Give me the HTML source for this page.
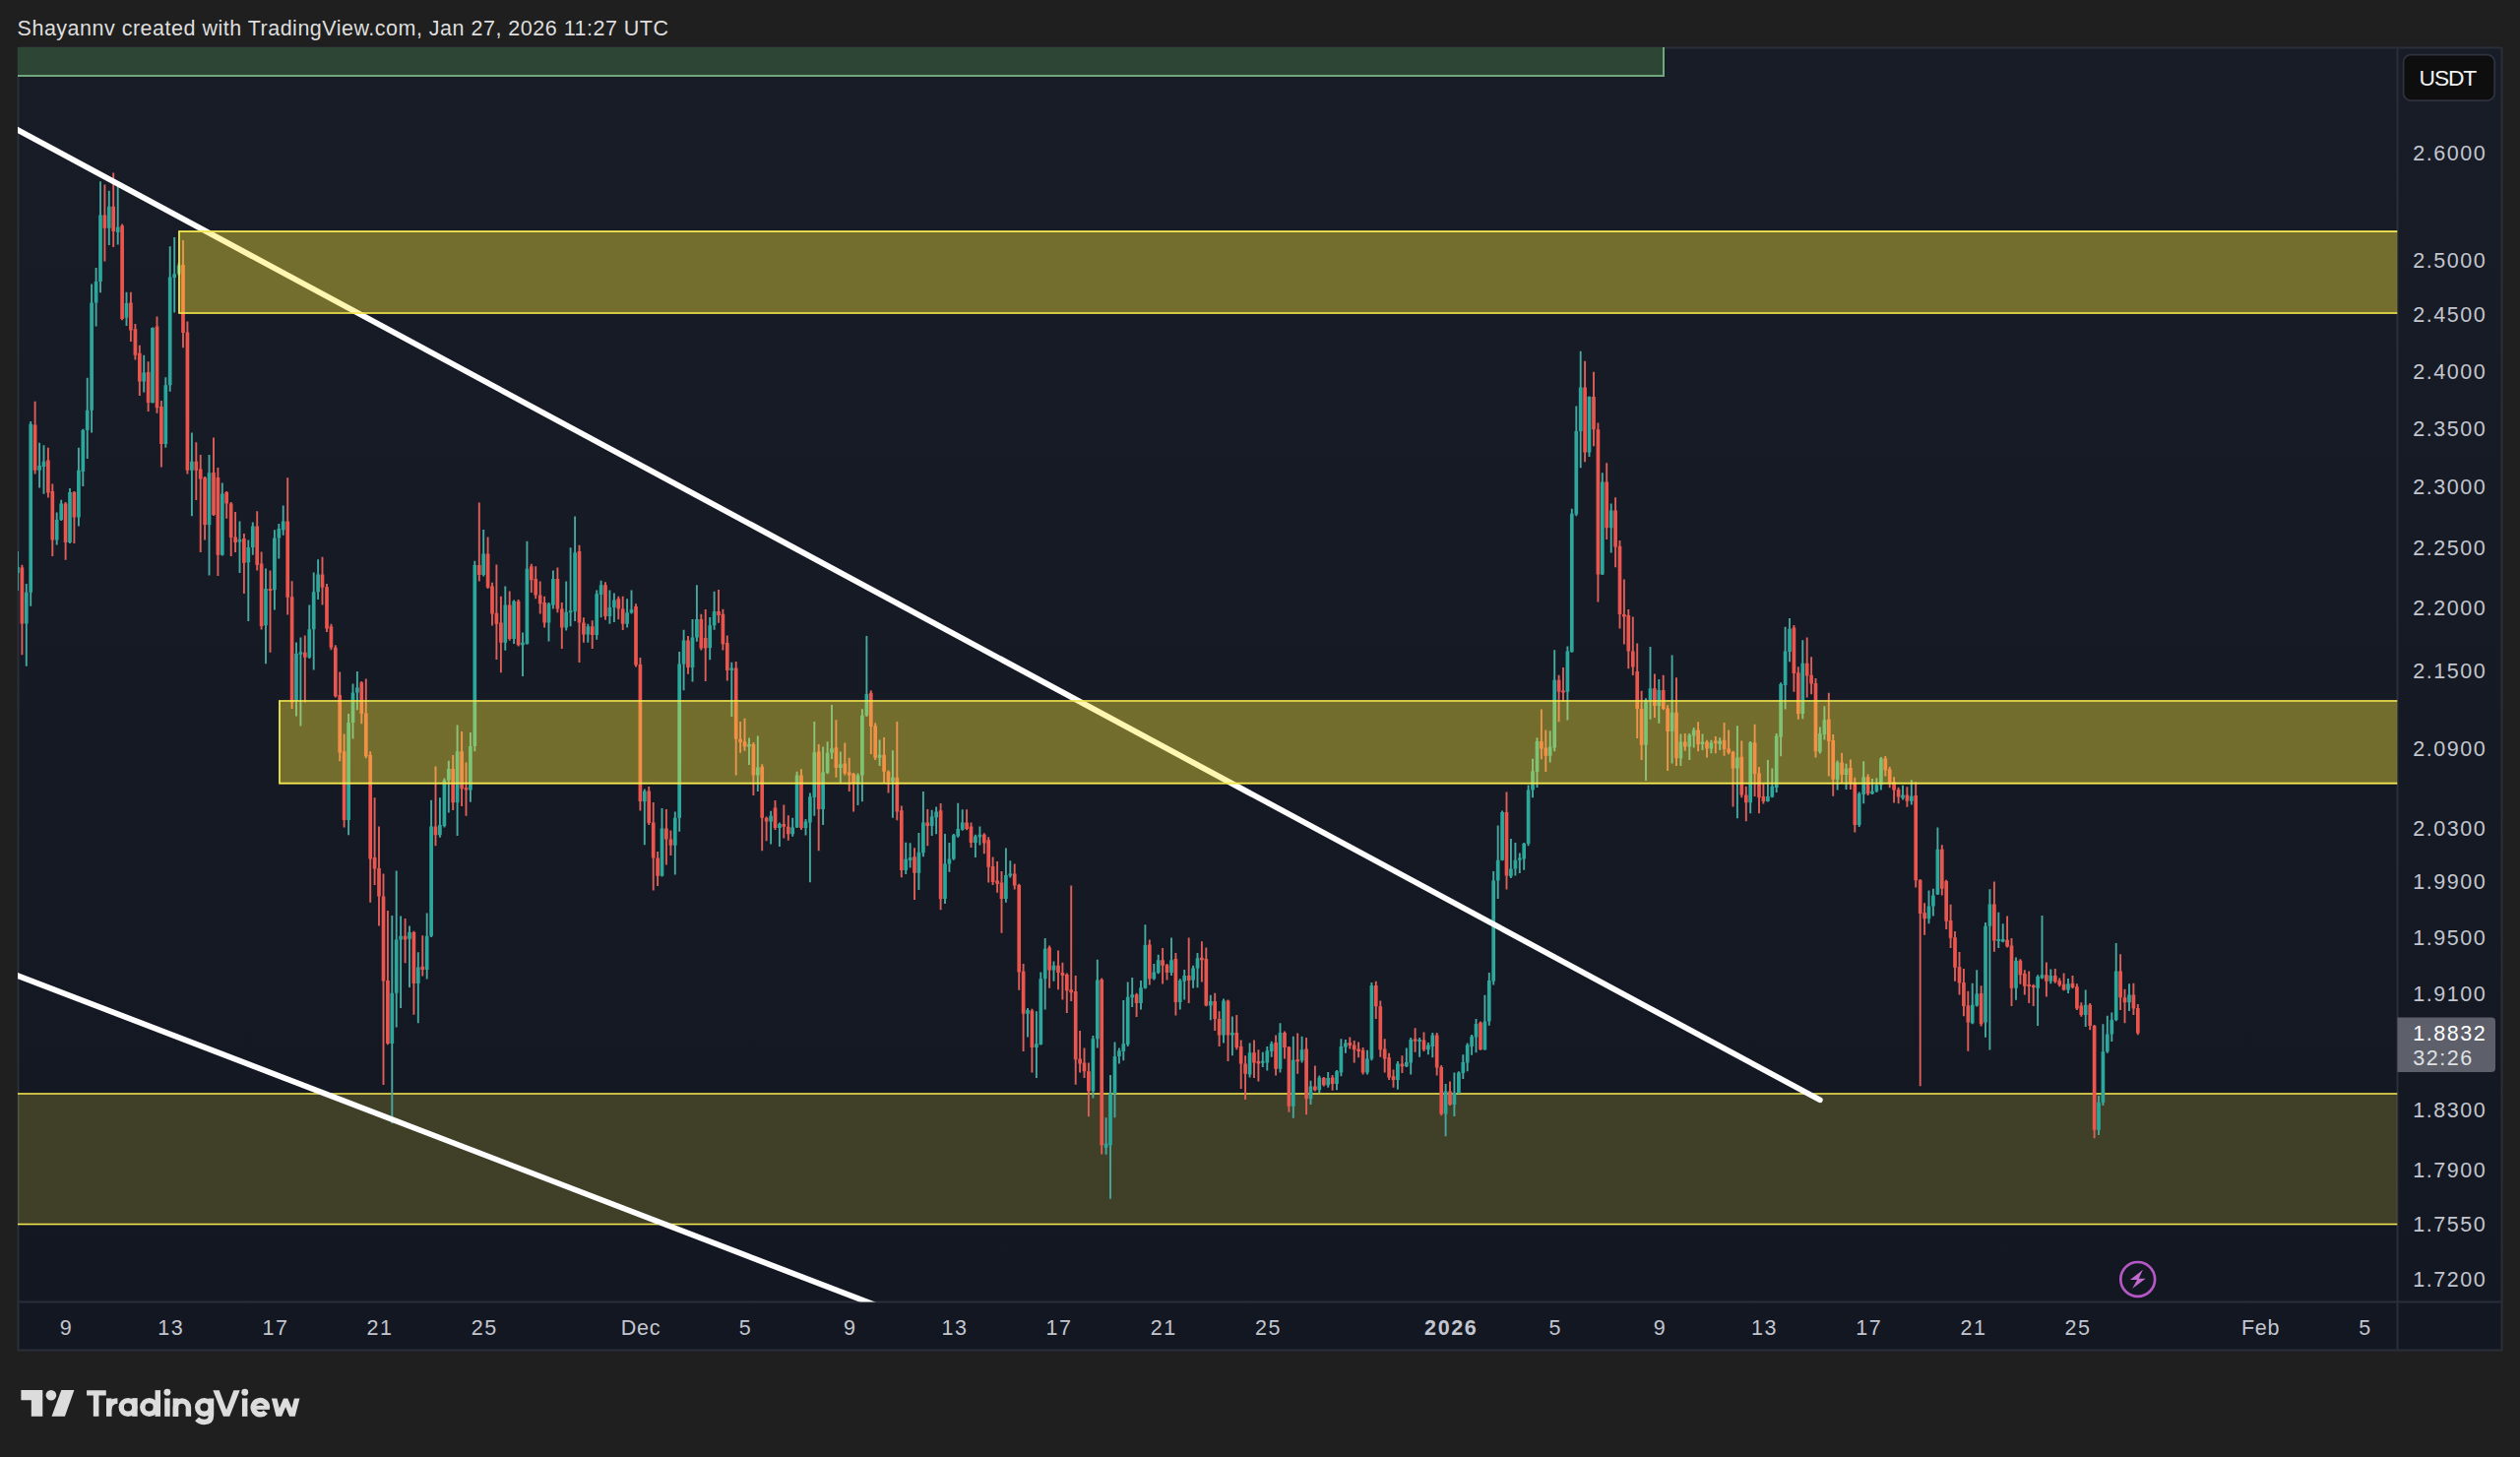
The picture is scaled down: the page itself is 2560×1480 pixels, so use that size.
<!DOCTYPE html>
<html><head><meta charset="utf-8"><title>chart</title>
<style>
html,body{margin:0;padding:0;background:#1f1f1f;}
body{width:2560px;height:1480px;position:relative;overflow:hidden;font-family:"Liberation Sans",sans-serif;}
svg text{font-family:"Liberation Sans",sans-serif;}
</style></head><body>
<svg width="2560" height="1480" viewBox="0 0 2560 1480" style="position:absolute;left:0;top:0">
<defs><linearGradient id="bgg" gradientUnits="userSpaceOnUse" x1="0" y1="48" x2="0" y2="1372"><stop offset="0" stop-color="#181c27"/><stop offset="1" stop-color="#131722"/></linearGradient></defs>
<defs><clipPath id="cp"><rect x="18" y="48" width="2417.5" height="1274.5"/></clipPath></defs>
<rect x="18" y="48" width="2524" height="1324" fill="url(#bgg)"/>
<path d="M18 48.5H2542M18 1322.5H2542M18 1371.5H2542" stroke="#2b2f3a" stroke-width="2" fill="none"/>
<path d="M18.5 48V1372M2435.5 48V1372M2541.5 48V1372" stroke="#2b2f3a" stroke-width="2" fill="none"/>
<g clip-path="url(#cp)">
<rect x="18" y="48" width="1672" height="29" fill="#2c4535"/>
<path d="M18 77H1690V48" stroke="#71a77c" stroke-width="2" fill="none"/>
<rect x="18" y="1110" width="2417.5" height="134.5" fill="#ffeb3b" fill-opacity="0.19"/><path d="M18 1111H2435.5M18 1243.5H2435.5" stroke="#f3e84f" stroke-width="1.7" fill="none"/>
<path d="M17.9 560V600M26.8 592.9V676.7M31.2 428V615.7M40.1 449.7V495.4M44.5 452.3V501.8M57.7 520.5V553.5M62.2 507.8V529M71 496V552M79.9 454.8V534.5M84.3 435.8V494M88.7 383.7V466M93.1 288.4V439.6M97.6 272V331.6M102 184.3V297.3M110.8 193.7V249M119.7 188V248.6M128.5 296.8V330.9M146.2 360.8V398.4M155 332.4V409.6M168.3 383.2V454.8M172.7 250.3V397.7M177.2 241V317.6M181.6 267V280M194.9 439.6V524.3M212.5 462V584.5M225.8 490.4V564.5M243.5 529.4V582M252.3 548.4V631M256.8 530.6V563.7M270 577.6V674.2M278.9 538.3V619.5M283.3 532V567.5M287.7 513.4V543.8M301 652.6V727.5M305.4 647.5V737.6M314.3 614.5V669M318.7 581.4V680.5M323.1 568.2V608.9M354.1 725.1V848.3M358.5 694.6V750.5M362.9 681.9V721.3M398.3 930V1141.3M402.7 884.6V1043.5M407.1 930.5V1023.9M416 940.6V1002.9M424.8 967.3V1039.2M433.7 927.4V994.5M438.1 812.7V952M446.9 810.2V850.8M451.4 790.6V840.6M455.8 772.8V825.4M464.6 736.5V849M477.9 744.1V814.7M482.3 569.7V763.2M491.2 537.9V585.4M513.3 595.6V660.8M522.1 609.5V654M531 642.5V687M535.4 549.8V654.7M557.5 612.1V651.4M561.9 579.6V618.4M575.2 590.5V640.5M579.6 556.2V636.2M584.1 524.4V631.1M597.3 633.7V652.7M606.2 599.4V649.7M610.6 589.7V627.3M619.4 599.4V633.7M623.9 602.4V631.9M637.1 608.3V637.5M641.5 599.4V623.5M654.8 801.6V858.2M672.5 821.1V890.5M685.8 824.4V888.4M690.2 661.9V844.8M694.6 639.8V701.3M703.5 628.9V692.4M707.9 594.3V651.7M721.2 627.1V670.3M725.6 600.7V639.8M743.3 672.8V727.9M761 749.5V777M769.8 747.5V804.1M783.1 823.7V857.5M791.9 835.4V860M805.2 830.8V849.8M809.6 783.8V841M818.5 832.1V848.6M822.9 805.4V896.3M827.3 733V828.8M836.1 758.4V837.9M840.6 753.3V786.3M845 716V771.1M853.8 763.5V795.2M871.5 785.6V818.1M875.9 720.3V814.3M880.4 645.9V727.9M893.6 751.6V778M906.9 762.2V830.8M920.2 855.7V887.9M924.6 856.2V881.6M933.4 846V903.9M937.9 804.1V870.2M946.7 822.7V849.1M951.1 819.4V847.3M960 847V918.1M964.4 855.9V885.8M968.8 847V873.7M973.2 815.7V850.8M977.7 822.3V843.7M990.9 847.7V871.1M995.4 839.4V858.4M1021.9 861.5V916.8M1026.3 874.2V891.4M1044 1024V1053.5M1052.9 1027.3V1095.1M1057.3 987.4V1061.6M1061.7 952.9V1025.5M1070.5 976.5V996.8M1110.4 1051.9V1115.4M1114.8 974.7V1064.6M1123.6 1135.2V1172.8M1128 1092.1V1217.8M1132.5 1058.5V1135.2M1136.9 1064.6V1080.6M1141.3 1015.9V1077.3M1145.7 997.6V1062.9M1150.2 993V1023M1159 996.1V1025.5M1163.4 939.2V1004.4M1172.3 979V995.6M1176.7 969.7V989.2M1190 952.4V991M1198.8 994.3V1025.5M1203.2 984.9V1015.4M1212.1 980.8V1003.7M1216.5 968.1V1003.2M1229.8 1010.8V1036.2M1243 1014.6V1059.6M1251.9 1032.4V1072.3M1269.6 1059.6V1094.6M1282.8 1068.7V1083.9M1287.3 1062.9V1087.5M1291.7 1057.8V1073.8M1300.5 1039.2V1089.5M1313.8 1052.7V1135.7M1322.6 1052.7V1079.4M1331.5 1097.7V1122M1340.3 1092.6V1110.3M1349.2 1089V1104.8M1358 1087V1107.3M1362.4 1055.2V1093.3M1366.9 1056V1069.7M1389 1066.7V1091.6M1393.4 998.1V1077.3M1419.9 1078.1V1106.8M1428.8 1064.6V1083.9M1433.2 1054V1091.6M1442.1 1054V1073.8M1450.9 1059V1071.2M1455.3 1048.9V1074.3M1468.6 1101V1154.3M1477.4 1089.5V1134M1481.9 1088.3V1111.1M1486.3 1071.2V1095.9M1490.7 1059.6V1088.3M1495.1 1050.9V1071.7M1499.5 1034.9V1069.2M1508.4 1010.8V1066.7M1512.8 987.9V1041.8M1517.2 885.1V1000.6M1521.7 838.6V913M1526.1 823.4V874.2M1534.9 852.1V891.9M1539.4 855.9V889.4M1543.8 866.5V886.9M1548.2 855.9V883.8M1552.6 797.5V859.2M1557 770.8V810.2M1561.5 749.2V800M1574.7 742.3V774.6M1579.2 660.3V763.2M1592.4 656.5V731.4M1596.8 516.7V662.7M1601.3 412.5V524.3M1605.7 356.7V475.3M1614.5 402.4V464.1M1627.8 480.3V584M1636.7 511.6V561.6M1672 709.3V793.1M1676.5 657V730.7M1685.3 690V734.7M1698.6 665.4V775.4M1707.4 745.4V777.9M1716.3 744.9V772.1M1720.7 739V759.4M1729.5 745.4V761.9M1738.4 751.7V765.2M1747.2 749.2V761.9M1764.9 737.3V831.2M1778.2 753V826.2M1795.9 772.1V814.5M1800.3 780.4V810.2M1804.7 744.9V805.1M1809.1 693.3V768.3M1813.6 636.7V720.5M1818 628.1V672.3M1831.3 650.2V730.2M1848.9 738.4V765.6M1853.4 717.3V751.6M1866.6 772.4V802.4M1875.5 775.7V801.9M1888.7 804.4V840M1893.2 773.2V816.3M1902 791V807M1906.4 790.2V804.9M1910.9 768.9V802.4M1933 797.8V812.5M1941.8 792.2V817.6M1959.5 904.5V938.3M1963.9 902.7V930.6M1968.4 840.5V909M2003.7 998.7V1040.3M2008.2 985.2V1022.6M2017 937V1053.8M2021.4 903.2V1066.5M2030.3 926.8V963.1M2034.7 938.3V957.3M2048 972.5V1015.7M2070.1 990.3V1041.9M2074.5 930.1V994.6M2083.3 984.5V999.2M2101 994.1V1008.9M2118.7 1005.6V1042.9M2132 1113V1152.9M2136.4 1040.3V1123.1M2140.8 1031.7V1069.8M2145.3 1028.4V1058.1M2149.7 958.1V1037.3M2163 999.2V1027.1" stroke="#46a8a0" stroke-width="1.9" fill="none"/><path d="M22.4 573.8V665.3M35.6 407.8V481.5M48.9 454.8V505.6M53.3 491.6V565M66.6 510V568.7M75.4 499V552M106.4 187.6V265.6M115.2 175.4V251M124.1 227.5V325.3M132.9 296.8V346.9M137.4 329V365.4M141.8 350.7V402M150.6 367.2V418M159.5 321.5V419.7M163.9 407V474.6M186 244V353.2M190.4 326.5V481.5M199.3 449.2V508M203.7 462V561M208.1 484V548.4M217 444.6V524M221.4 475V585M230.2 499V526.8M234.7 510V565M239.1 520V561M247.9 542V603M261.2 519.2V579.4M265.6 560.6V639.4M274.5 579.4V662.7M292.2 485.3V624.6M296.6 590.3V719.9M309.8 645.4V713.5M327.5 565.7V614.5M332 592.9V641.9M336.4 633.7V660.3M340.8 655.2V708.6M345.2 682.4V773.3M349.6 745.4V840.6M367.3 692.1V735.2M371.8 689.5V770.3M376.2 763.2V916.8M380.6 810.2V899M385 839.4V940.6M389.5 887.6V1101.9M393.9 924.9V1061.3M411.6 933V978.2M420.4 945.7V1030.8M429.3 950.3V991.4M442.5 778.4V859.2M460.2 767V822.9M469.1 742.9V819M473.5 774.6V828.7M486.8 510.5V590.5M495.6 545.5V598.1M500 591.7V635.4M504.4 573.5V670M508.9 605.7V683.2M517.7 600.6V650.7M526.6 609V656.5M539.8 572.7V601.9M544.2 575.2V608.3M548.7 590.5V623.5M553.1 605.7V637.5M566.4 576.5V622.2M570.8 612.1V659M588.5 553.7V673M592.9 627.3V652.7M601.7 630.3V659M615 591.2V629.8M628.3 605.7V629.3M632.7 605.7V640M646 613.3V677.6M650.4 667.9V823.4M659.2 799V837.9M663.7 815V904.4M668.1 865.1V899.9M676.9 821.9V878.5M681.4 843.5V868.9M699 645.9V684.8M712.3 623.8V660.6M716.7 619V691.9M730 598.9V632.7M734.4 618.7V660.6M738.8 645.4V691.6M747.7 672.1V787.6M752.1 733V764.8M756.5 729.7V762.7M765.4 754.1V807.9M774.2 776.2V864.3M778.6 829.5V854.2M787.5 813V843M796.3 817.6V851.6M800.8 828.3V853.7M814 781.3V843M831.7 755.9V864.3M849.4 731.2V789.7M858.3 754.6V787.6M862.7 769.8V804.1M867.1 785.1V824.4M884.8 701.3V766M889.2 734.3V771.9M898.1 749V795.2M902.5 782.5V805.4M911.3 733V833.3M915.8 818.6V891.2M929 861.3V914.1M942.3 821.9V859.2M955.6 816.1V924.3M982.1 822.3V843.2M986.5 835.6V861M999.8 846.2V867.3M1004.2 850.3V896.5M1008.6 870.6V899M1013.1 874.9V906.7M1017.5 885.1V947.8M1030.7 877.5V903.6M1035.2 897.8V1005.7M1039.6 979V1067.9M1048.4 1024.8V1089.5M1066.1 960.5V1003.7M1075 965.6V1005.2M1079.4 977.8V1015.4M1083.8 988.4V1029.1M1088.2 899.6V1017.1M1092.7 991V1101.7M1097.1 1046.9V1089.5M1101.5 1064.6V1095.1M1105.9 1079.4V1134.2M1119.2 993.5V1172.6M1154.6 1008.8V1033.1M1167.8 954.4V1000.6M1181.1 963V999.4M1185.5 979V995.6M1194.4 968.1V1031.6M1207.7 952.4V1018.9M1220.9 956.2V997.6M1225.3 962.5V1022.2M1234.2 1008.8V1046.9M1238.6 1027.3V1062.9M1247.5 1015.4V1078.1M1256.3 1031.1V1066.2M1260.7 1056.5V1106M1265.1 1072.3V1117M1274 1056.5V1095.1M1278.4 1066.2V1098.4M1296.1 1051.4V1092.6M1305 1047.6V1075.6M1309.4 1062.9V1129.7M1318.2 1049.4V1090.8M1327.1 1054V1132.2M1335.9 1082.4V1108.6M1344.8 1094.1V1103.5M1353.6 1092.1V1107.8M1371.3 1053.5V1065.4M1375.7 1057V1079.4M1380.1 1058.5V1074.3M1384.6 1064.1V1091.6M1397.8 996.8V1034.9M1402.3 1016.4V1073.8M1406.7 1055.2V1089.5M1411.1 1069.7V1097.1M1415.5 1086.5V1104.8M1424.4 1072.3V1090M1437.6 1044.3V1068.7M1446.5 1048.4V1067.9M1459.7 1048.9V1092.6M1464.2 1081.9V1133.2M1473 1098.4V1123M1504 1037.5V1066.7M1530.5 804.6V903.6M1565.9 720.5V771.3M1570.3 741.6V784M1583.6 685.7V733.2M1588 678.1V712.4M1610.1 366.8V469.2M1619 377.7V453.2M1623.4 429.6V611.4M1632.2 470.2V547.9M1641.1 505.2V576.3M1645.5 548.9V638.6M1649.9 588.5V654.6M1654.3 619V679.2M1658.8 626.6V686.1M1663.2 653.5V750M1667.6 701.7V772.1M1680.9 684.4V728.9M1689.7 685.7V721.3M1694.1 716.2V783M1703 688.3V777.9M1711.8 744.9V762.7M1725.1 733.2V763.2M1734 751.7V769.5M1742.8 747.9V765.2M1751.6 734V767.7M1756.1 741.6V766.2M1760.5 762.7V819.6M1769.3 752.5V810.2M1773.8 798.7V834.3M1782.6 735.7V808.9M1787 778.9V826.2M1791.4 794.9V816.5M1822.4 634.9V702.7M1826.8 677.3V730.7M1835.7 647.6V708.6M1840.1 667.2V705.3M1844.5 689V769.5M1857.8 703.8V788.4M1862.2 746V808.7M1871.1 764.8V795.3M1879.9 771.4V801.9M1884.3 789.7V845.6M1897.6 786.6V808M1915.3 768.1V788.4M1919.7 779V800.3M1924.1 789.2V815.6M1928.6 799.8V816.3M1937.4 799.3V819.7M1946.2 794.3V901.4M1950.7 893.3V1103.3M1955.1 917.2V949.7M1972.8 858.3V909.6M1977.2 893.8V944.1M1981.6 918.7V962.9M1986 945.9V996.7M1990.5 967V1010.6M1994.9 984V1032.2M1999.3 1006.8V1067.8M2012.6 1001.2V1042.4M2025.9 895.6V966.7M2039.1 930.6V962.4M2043.5 953V1022.1M2052.4 974.3V999.7M2056.8 985.2V1010.6M2061.2 986.5V1019M2065.7 999.7V1022.1M2078.9 977.6V1012.4M2087.8 984V998.7M2092.2 993.6V1002.3M2096.6 988.5V1006.3M2105.5 991.1V1004.3M2109.9 999.2V1025.9M2114.3 1018.3V1032.7M2123.2 1019V1046.2M2127.6 1041.1V1156.2M2154.1 969.2V1025.9M2158.5 1004.8V1039.3M2167.4 998.7V1031M2171.8 1020V1051.3" stroke="#dc5f59" stroke-width="1.9" fill="none"/><path d="M17.9 576V582M26.8 601.8V633.5M31.2 430.7V601.8M40.1 473V477.7M44.5 468.8V473.9M57.7 528V548.4M62.2 511.6V528M71 500V551M79.9 477.7V525.6M84.3 437V479M88.7 416.7V437M93.1 307.5V416.7M97.6 285.9V307.5M102 218.6V285.9M110.8 209.7V231.8M119.7 230.8V235.9M128.5 308V322.7M146.2 378.6V387.5M155 332.9V409M168.3 391.3V451M172.7 281.6V391.3M177.2 278.3V282M181.6 269.4V278.3M194.9 468.8V477.7M212.5 480.2V533.2M225.8 501.4V563.7M243.5 548V550.5M252.3 556V571.3M256.8 534.5V556M270 598V635.3M278.9 546.4V599.2M283.3 537V546.4M287.7 529.4V538.3M301 664V712.2M305.4 662.2V664.7M314.3 639.3V667.8M318.7 601.2V639.3M323.1 583.5V601.2M354.1 734V833M358.5 703.5V734M362.9 698.4V703.5M398.3 1008.7V1060M402.7 954.6V1008.7M407.1 950.8V954.6M416 947V953.8M424.8 982.5V999M433.7 950.8V985M438.1 839.4V950.8M446.9 838.1V848.3M451.4 792.4V838.9M455.8 781V792.4M464.6 763.2V815.2M477.9 758.1V802.5M482.3 574V758.1M491.2 562.5V584.1M513.3 614.6V652.7M522.1 610.8V648.9M531 652.7V655.2M535.4 577.8V654M557.5 613.3V632.4M561.9 587.9V614.6M575.2 621.7V637.5M579.6 620.2V622.2M584.1 561.3V621M597.3 636.2V644.6M606.2 603.2V645.1M610.6 594.3V603.9M619.4 617.1V626M623.9 609.5V617.1M637.1 622.2V633.7M641.5 619.2V622.2M654.8 803.4V814.3M672.5 841.5V889.7M685.8 830.8V858.7M690.2 674.6V830.8M694.6 650.5V674.6M703.5 647.4V677.9M707.9 628.9V647.4M721.2 635.2V658.1M725.6 621V635.2M743.3 678.4V681M761 755.9V758.4M769.8 779.5V787.6M783.1 828.8V834.6M791.9 837.1V841M805.2 840.4V847.3M809.6 787.6V840.4M818.5 834.6V841M822.9 809.2V835.4M827.3 764.3V810M836.1 784.6V821.9M840.6 764.8V785.1M845 760.2V764.8M853.8 776.2V780M871.5 787.6V795.2M875.9 726.7V787.6M880.4 705.1V726.7M893.6 766.8V769.8M906.9 789.7V794M920.2 872.7V884.1M924.6 870.9V874M933.4 865.8V886.7M937.9 835.4V866.3M946.7 829.5V838.9M951.1 824.4V830.3M960 877.5V913M964.4 872.4V877.5M968.8 848.3V872.4M973.2 841.9V849.5M977.7 835.6V842.7M990.9 849.5V855.9M995.4 847.7V850.3M1021.9 888.9V913M1026.3 887.5V889.5M1044 1026V1029.8M1052.9 1060.3V1064.1M1057.3 994.3V1061.1M1061.7 963.8V994.3M1070.5 980.8V985.4M1110.4 1055.2V1108.6M1114.8 995.6V1055.2M1123.6 1161.4V1165.7M1128 1111.1V1163.2M1132.5 1073V1111.1M1136.9 1067.2V1073M1141.3 1060.3V1067.9M1145.7 1012.8V1061.1M1150.2 1010.3V1013.3M1159 1003.2V1018.9M1163.4 960V1003.7M1172.3 987.4V994.3M1176.7 975.2V987.9M1190 975.2V987.9M1198.8 996.1V1017.9M1203.2 991V996.8M1212.1 983.4V995.6M1216.5 973.2V983.4M1229.8 1017.1V1021.5M1243 1016.4V1051.4M1251.9 1048.9V1051.4M1269.6 1069.2V1091.6M1282.8 1077.7V1079.7M1287.3 1067.2V1079.4M1291.7 1060.3V1067.9M1300.5 1048.9V1085.7M1313.8 1076.8V1123.8M1322.6 1066.2V1077.3M1331.5 1103.5V1116.2M1340.3 1094.6V1107.3M1349.2 1095.1V1102.2M1358 1088.3V1101M1362.4 1062.9V1089.5M1366.9 1059.6V1063.6M1389 1075.6V1089.5M1393.4 1001.1V1075.6M1419.9 1080.6V1097.1M1428.8 1078.9V1083.2M1433.2 1056V1079.4M1442.1 1055.9V1057.9M1450.9 1061.6V1066.2M1455.3 1051.4V1062.9M1468.6 1108.6V1131.4M1477.4 1109.8V1122M1481.9 1089.5V1110.3M1486.3 1078.9V1090M1490.7 1061.6V1079.4M1495.1 1052.7V1062.9M1499.5 1040V1053.5M1508.4 1037.5V1066.2M1512.8 996.1V1037.5M1517.2 894.5V996.8M1521.7 873.7V894.5M1526.1 824.9V873.7M1534.9 882.5V890.2M1539.4 873.7V882.5M1543.8 871.6V873.7M1548.2 857.1V872.4M1552.6 802.5V857.1M1557 783.5V802.5M1561.5 753V784M1574.7 758.6V767.7M1579.2 690.8V759.4M1592.4 661.6V702.7M1596.8 521.7V662.2M1601.3 437.9V522.5M1605.7 393.5V437.9M1614.5 403.1V459.5M1627.8 489.5V583.5M1636.7 518.4V536.2M1672 711.1V756.8M1676.5 699.2V711.1M1685.3 701V717M1698.6 723.8V742.9M1707.4 753.5V770.3M1716.3 746.7V758.6M1720.7 741.6V747.4M1729.5 753.5V756.1M1738.4 754.3V760.6M1747.2 752.5V756.1M1764.9 769.5V780.4M1778.2 754.3V815.2M1795.9 808.9V814M1800.3 798.7V809.4M1804.7 747.4V800M1809.1 695.1V748.4M1813.6 661.6V695.9M1818 638.7V662.1M1831.3 673.8V725.1M1848.9 745.2V763.8M1853.4 731.3V746M1866.6 774.4V791.7M1875.5 780.8V787.1M1888.7 806.2V837.9M1893.2 789.2V807M1902 803.7V806.2M1906.4 797.3V803.7M1910.9 770.6V797.3M1933 807.5V810.5M1941.8 808.7V813.8M1959.5 920.5V933.2M1963.9 909.6V920.5M1968.4 862.8V908.5M2003.7 1020.8V1039.3M2008.2 1009.4V1021.6M2017 940.8V1038.6M2021.4 918.4V940.8M2030.3 954V956M2034.7 954V956.5M2048 975.8V1003.8M2070.1 992.1V1003.8M2074.5 990.3V993.6M2083.3 991.1V996.7M2101 999.2V1005.6M2118.7 1020.8V1031M2132 1119.8V1147.8M2136.4 1068.3V1119.8M2140.8 1050.5V1068.3M2145.3 1036V1050.5M2149.7 986.5V1036M2163 1010.6V1018.3" stroke="#2ba89b" stroke-width="3.7" fill="none"/><path d="M22.4 576.4V633.5M35.6 431.4V477.7M48.9 467.5V500.5M53.3 499V548.4M66.6 511.6V551M75.4 500V525.6M106.4 218.6V231.8M115.2 209.7V235M124.1 229.2V324M132.9 307.5V335.4M137.4 334.2V360.8M141.8 358.8V387.5M150.6 378V409M159.5 331.6V414.2M163.9 412.9V451M186 268.9V338M190.4 337.5V477.7M199.3 468.8V477.7M203.7 476.4V486.6M208.1 485.3V533M217 480V523M221.4 485V563.7M230.2 500V511.6M234.7 511.6V545.9M239.1 545.4V551M247.9 547V571.8M261.2 534.5V573.8M265.6 572.6V636M274.5 597.9V599.9M292.2 529.4V606.8M296.6 606.3V713.5M309.8 662.7V667.8M327.5 583.5V596.7M332 596.2V638.6M336.4 636.2V657.8M340.8 657.8V707.3M345.2 706V764.4M349.6 763.2V833M367.3 693.3V725.1M371.8 724.6V768.3M376.2 767V872.4M380.6 871.1V882.5M385 882V910.5M389.5 910.5V996.5M393.9 996V1060M411.6 950.8V954.6M420.4 947V999M429.3 981.8V985M442.5 839.4V848.3M460.2 781V815.2M469.1 763.2V801.3M473.5 800V802.5M486.8 574V584.1M495.6 562.5V596.8M500 595.6V623.5M504.4 622.7V633.7M508.9 632.4V652.7M517.7 614.6V648.9M526.6 610.8V655.2M539.8 575.2V589.2M544.2 587.9V604.4M548.7 604.4V613.3M553.1 612.1V632.4M566.4 587.9V618.4M570.8 618.4V637.5M588.5 560V632.4M592.9 632.4V644.6M601.7 636.2V645.1M615 594.3V626M628.3 608.3V618.4M632.7 618.4V633.7M646 615.9V675.6M650.4 675V814M659.2 803.4V835.9M663.7 835.4V871.4M668.1 871.4V889.7M676.9 841.5V852.4M681.4 852.4V858.7M699 650.5V677.9M712.3 628.9V658.6M716.7 647.9V658.6M730 621V625.1M734.4 623.8V654.3M738.8 653V681M747.7 678.4V750.8M752.1 750.8V754.1M756.5 753.3V758.4M765.4 755.9V787.6M774.2 778.7V830.8M778.6 830.8V834.6M787.5 820.6V841M796.3 837.1V839.7M800.8 839.7V847.3M814 787.6V841M831.7 763.5V821.9M849.4 759.2V780M858.3 775.4V785.6M862.7 784.6V787.6M867.1 786.3V795.2M884.8 703.8V738.1M889.2 737.3V769.8M898.1 766.8V783.8M902.5 783.8V794M911.3 789.7V824.4M915.8 823.2V884.1M929 870.2V886.7M942.3 835.4V838.9M955.6 823.2V913.3M982.1 835.6V841.9M986.5 839.4V855.9M999.8 847.7V856.4M1004.2 853.3V880.8M1008.6 880V896M1013.1 894.5V897.8M1017.5 896.5V913M1030.7 887.6V899.6M1035.2 899V987.4M1039.6 986.7V1029.8M1048.4 1026.5V1064.1M1066.1 962.5V985.4M1075 980.8V987.9M1079.4 987.9V991M1083.8 990V1006.2M1088.2 1005.2V1008.3M1092.7 1007V1076.3M1097.1 1075.6V1080.6M1101.5 1079.4V1088.3M1105.9 1088.3V1108.6M1119.2 995V1163.2M1154.6 1010.3V1018.9M1167.8 959.5V994.3M1181.1 975.2V980.8M1185.5 980.3V987.9M1194.4 974V1017.9M1207.7 991V996.1M1220.9 972.7V975.2M1225.3 974V1021.5M1234.2 1017.1V1034.9M1238.6 1034.9V1051.4M1247.5 1016.4V1051.4M1256.3 1048.9V1064.1M1260.7 1062.9V1080.6M1265.1 1080.6V1090.8M1274 1069.2V1079.4M1278.4 1078.1V1080.6M1296.1 1059V1085.7M1305 1048.9V1064.1M1309.4 1063.6V1123.8M1318.2 1076.2V1078.2M1327.1 1065.4V1116.2M1335.9 1103.5V1107.3M1344.8 1095.1V1102.2M1353.6 1094.6V1101M1371.3 1059V1062.1M1375.7 1061.6V1066.2M1380.1 1065.4V1067.9M1384.6 1066.7V1089.5M1397.8 1001.1V1022.2M1402.3 1022.2V1066.2M1406.7 1065.4V1075.6M1411.1 1074.3V1094.6M1415.5 1093.3V1097.1M1424.4 1080.6V1083.2M1437.6 1055.2V1057.8M1446.5 1056.5V1066.2M1459.7 1051.4V1084.4M1464.2 1083.9V1131.4M1473 1108.6V1122M1504 1038.7V1066.2M1530.5 824.9V889.4M1565.9 753V760.6M1570.3 759.4V767.7M1583.6 690.8V702.7M1588 701.6V703.6M1610.1 393.5V459.5M1619 403.1V436.2M1623.4 436.2V583.5M1632.2 489.5V536.2M1641.1 518.4V555.5M1645.5 554.8V624.1M1649.9 624.1V626.6M1654.3 625.1V661.4M1658.8 661.4V677.4M1663.2 681.9V720M1667.6 720V756.8M1680.9 699.2V717M1689.7 701V720M1694.1 719.5V742.9M1703 723.8V770.3M1711.8 753.5V758.6M1725.1 741.6V756.1M1734 753.5V760.6M1742.8 752.5V755M1751.6 751.7V761.1M1756.1 760.6V764.4M1760.5 763.7V780.4M1769.3 768.8V807.6M1773.8 807.6V815.2M1782.6 754.3V786M1787 785.5V810.2M1791.4 808.9V814M1822.4 637.5V683.9M1826.8 683.2V725.1M1835.7 673.8V686.5M1840.1 685.7V694.6M1844.5 694.1V763.2M1857.8 730.8V752.9M1862.2 752.1V791.7M1871.1 774.4V787.1M1879.9 780V795.3M1884.3 794.8V837.9M1897.6 789.2V806.2M1915.3 770.6V782.6M1919.7 781.6V794.8M1924.1 794.3V802.4M1928.6 801.9V809.5M1937.4 807.5V813.8M1946.2 808V894.3M1950.7 893.8V928.1M1955.1 927.3V933.2M1972.8 862.8V902.7M1977.2 895.1V935.7M1981.6 935V952.7M1986 952.2V982.7M1990.5 982.2V998.4M1994.9 997.9V1022.1M1999.3 1021.6V1038.6M2012.6 1008.9V1040.3M2025.9 918.4V955.5M2039.1 954.8V961.6M2043.5 960.6V1003.8M2052.4 975.8V990.3M2056.8 989V1001.7M2061.2 1000.1V1002.1M2065.7 1001.1V1003.1M2078.9 990.3V996.7M2087.8 991.1V997.2M2092.2 996.2V1000.5M2096.6 999.7V1005.6M2105.5 998.7V1003M2109.9 1002.3V1024.6M2114.3 1021.6V1031M2123.2 1020.8V1041.9M2127.6 1041.9V1147.8M2154.1 986.5V1013.2M2158.5 1013.2V1018.3M2167.4 1010.6V1024.6M2171.8 1024.1V1049.5" stroke="#ea554e" stroke-width="3.7" fill="none"/>
<path d="M14 129.85L1848.8 1117.3" stroke="#fff" stroke-width="5.8" stroke-linecap="round" fill="none"/>
<path d="M14 989.5L900 1329.8" stroke="#fff" stroke-width="5.8" fill="none"/>
<rect x="181" y="234.2" width="2254.5" height="84.80000000000001" fill="#ffeb3b" fill-opacity="0.4"/><path d="M2435.5 235.2H182V318H2435.5" stroke="#f3e84f" stroke-width="1.7" fill="none"/>
<rect x="283" y="711" width="2152.5" height="85.60000000000002" fill="#ffeb3b" fill-opacity="0.4"/><path d="M2435.5 712H284V795.6H2435.5" stroke="#f3e84f" stroke-width="1.7" fill="none"/>
</g>
<circle cx="2171.7" cy="1299.4" r="17.4" fill="none" stroke="#b558c6" stroke-width="2.7"/>
<path d="M2177.0 1289.8 L2163.9 1300.1 L2171.1 1300.1 L2166.1 1309.0 L2179.7 1298.8 L2172.7 1298.8 z" fill="#c06ace"/>
<rect x="2441.6" y="55.6" width="92.6" height="46.5" rx="7.5" fill="#0e0e0e" stroke="#2e323e" stroke-width="1.8"/>
<text x="2457.6" y="86.5" font-size="22.8" fill="#f2f2f2" letter-spacing="-1.15">USDT</text>
<text x="2451.3" y="163.1" font-size="21.5" fill="#c3c6ce" letter-spacing="1.55">2.6000</text>
<text x="2451.3" y="271.8" font-size="21.5" fill="#c3c6ce" letter-spacing="1.55">2.5000</text>
<text x="2451.3" y="327.4" font-size="21.5" fill="#c3c6ce" letter-spacing="1.55">2.4500</text>
<text x="2451.3" y="384.7" font-size="21.5" fill="#c3c6ce" letter-spacing="1.55">2.4000</text>
<text x="2451.3" y="443.1" font-size="21.5" fill="#c3c6ce" letter-spacing="1.55">2.3500</text>
<text x="2451.3" y="502.1" font-size="21.5" fill="#c3c6ce" letter-spacing="1.55">2.3000</text>
<text x="2451.3" y="563.5" font-size="21.5" fill="#c3c6ce" letter-spacing="1.55">2.2500</text>
<text x="2451.3" y="625" font-size="21.5" fill="#c3c6ce" letter-spacing="1.55">2.2000</text>
<text x="2451.3" y="688.5" font-size="21.5" fill="#c3c6ce" letter-spacing="1.55">2.1500</text>
<text x="2451.3" y="767.7" font-size="21.5" fill="#c3c6ce" letter-spacing="1.55">2.0900</text>
<text x="2451.3" y="848.7" font-size="21.5" fill="#c3c6ce" letter-spacing="1.55">2.0300</text>
<text x="2451.3" y="903.2" font-size="21.5" fill="#c3c6ce" letter-spacing="1.55">1.9900</text>
<text x="2451.3" y="959.5" font-size="21.5" fill="#c3c6ce" letter-spacing="1.55">1.9500</text>
<text x="2451.3" y="1017" font-size="21.5" fill="#c3c6ce" letter-spacing="1.55">1.9100</text>
<text x="2451.3" y="1135.2" font-size="21.5" fill="#c3c6ce" letter-spacing="1.55">1.8300</text>
<text x="2451.3" y="1196.2" font-size="21.5" fill="#c3c6ce" letter-spacing="1.55">1.7900</text>
<text x="2451.3" y="1251" font-size="21.5" fill="#c3c6ce" letter-spacing="1.55">1.7550</text>
<text x="2451.3" y="1307.1" font-size="21.5" fill="#c3c6ce" letter-spacing="1.55">1.7200</text>
<path d="M2435.5 1033.5H2531a4 4 0 0 1 4 4V1085a4 4 0 0 1 -4 4H2435.5z" fill="#5d606b"/>
<text x="2451.3" y="1056.5" font-size="21.5" fill="#fff" letter-spacing="1.55">1.8832</text>
<text x="2451.3" y="1082" font-size="21.5" fill="#dfe0e4" letter-spacing="1.55">32:26</text>
<text x="67.5" y="1356.1" font-size="21.5" fill="#c3c6ce" text-anchor="middle" letter-spacing="1.55">9</text>
<text x="173.7" y="1356.1" font-size="21.5" fill="#c3c6ce" text-anchor="middle" letter-spacing="1.55">13</text>
<text x="279.9" y="1356.1" font-size="21.5" fill="#c3c6ce" text-anchor="middle" letter-spacing="1.55">17</text>
<text x="386" y="1356.1" font-size="21.5" fill="#c3c6ce" text-anchor="middle" letter-spacing="1.55">21</text>
<text x="492.2" y="1356.1" font-size="21.5" fill="#c3c6ce" text-anchor="middle" letter-spacing="1.55">25</text>
<text x="651" y="1356.1" font-size="21.5" fill="#c3c6ce" text-anchor="middle" letter-spacing="0.7">Dec</text>
<text x="757.6" y="1356.1" font-size="21.5" fill="#c3c6ce" text-anchor="middle" letter-spacing="1.55">5</text>
<text x="863.7" y="1356.1" font-size="21.5" fill="#c3c6ce" text-anchor="middle" letter-spacing="1.55">9</text>
<text x="969.9" y="1356.1" font-size="21.5" fill="#c3c6ce" text-anchor="middle" letter-spacing="1.55">13</text>
<text x="1076.1" y="1356.1" font-size="21.5" fill="#c3c6ce" text-anchor="middle" letter-spacing="1.55">17</text>
<text x="1182.2" y="1356.1" font-size="21.5" fill="#c3c6ce" text-anchor="middle" letter-spacing="1.55">21</text>
<text x="1288.4" y="1356.1" font-size="21.5" fill="#c3c6ce" text-anchor="middle" letter-spacing="1.55">25</text>
<text x="1474.2" y="1356.1" font-size="21.5" fill="#c3c6ce" text-anchor="middle" letter-spacing="1.6" font-weight="bold">2026</text>
<text x="1580.3" y="1356.1" font-size="21.5" fill="#c3c6ce" text-anchor="middle" letter-spacing="1.55">5</text>
<text x="1686.5" y="1356.1" font-size="21.5" fill="#c3c6ce" text-anchor="middle" letter-spacing="1.55">9</text>
<text x="1792.6" y="1356.1" font-size="21.5" fill="#c3c6ce" text-anchor="middle" letter-spacing="1.55">13</text>
<text x="1898.8" y="1356.1" font-size="21.5" fill="#c3c6ce" text-anchor="middle" letter-spacing="1.55">17</text>
<text x="2005" y="1356.1" font-size="21.5" fill="#c3c6ce" text-anchor="middle" letter-spacing="1.55">21</text>
<text x="2111.1" y="1356.1" font-size="21.5" fill="#c3c6ce" text-anchor="middle" letter-spacing="1.55">25</text>
<text x="2296.5" y="1356.1" font-size="21.5" fill="#c3c6ce" text-anchor="middle" letter-spacing="0.7">Feb</text>
<text x="2403.1" y="1356.1" font-size="21.5" fill="#c3c6ce" text-anchor="middle" letter-spacing="1.55">5</text>
<text x="17.6" y="35.7" font-size="21.5" fill="#dedede" letter-spacing="0.5">Shayannv created with TradingView.com, Jan 27, 2026 11:27 UTC</text>
<g fill="#dcdcdc"><path d="M21.4 1412.1H43.3V1438.8H31.8V1422.3H21.4z"/><circle cx="51.9" cy="1417.3" r="5.3"/><path d="M62.3 1412.1H75.4L65.9 1438.8H52.5z"/></g>
<defs><clipPath id="wc"><rect x="2080" y="200" width="260" height="145"/></clipPath></defs>
<g transform="translate(10,1395) scale(0.126984)" fill="#dcdcdc" stroke="none">
<path d="M615 135H770V178H712V345H668V178H615z"/>
<rect x="772" y="200" width="43" height="145"/><path d="M793.5 290Q793.5 222 862 220" fill="none" stroke="#dcdcdc" stroke-width="43"/>
<circle cx="945" cy="271" r="53.5" fill="none" stroke="#dcdcdc" stroke-width="43"/><rect x="978" y="198" width="43" height="147"/>
<circle cx="1115" cy="271" r="53.5" fill="none" stroke="#dcdcdc" stroke-width="43"/><rect x="1162" y="135" width="43" height="210"/>
<rect x="1238" y="200" width="43" height="145"/><circle cx="1259.5" cy="152" r="27"/>
<rect x="1305" y="200" width="43" height="145"/><path d="M1326.5 345V272A51 51 0 0 1 1428.5 272V345" fill="none" stroke="#dcdcdc" stroke-width="43"/>
<circle cx="1555" cy="271" r="53.5" fill="none" stroke="#dcdcdc" stroke-width="43"/><path d="M1610.5 200V335Q1610.5 390 1555 390Q1520 390 1497 366" fill="none" stroke="#dcdcdc" stroke-width="43"/>
<path d="M1625 135H1675L1733 292L1790 135H1840L1758 345H1708z"/>
<rect x="1858" y="200" width="43" height="145"/><circle cx="1880" cy="152" r="27"/>
<path d="M2058.8 276A56 56 0 1 0 2045.9 309" fill="none" stroke="#dcdcdc" stroke-width="43"/><rect x="1950" y="258" width="128" height="32"/>
<path clip-path="url(#wc)" d="M2110 180L2152 345L2206 215L2260 345L2302 180" fill="none" stroke="#dcdcdc" stroke-width="42" stroke-linejoin="miter" stroke-miterlimit="10"/>
</g>
</svg>
</body></html>
